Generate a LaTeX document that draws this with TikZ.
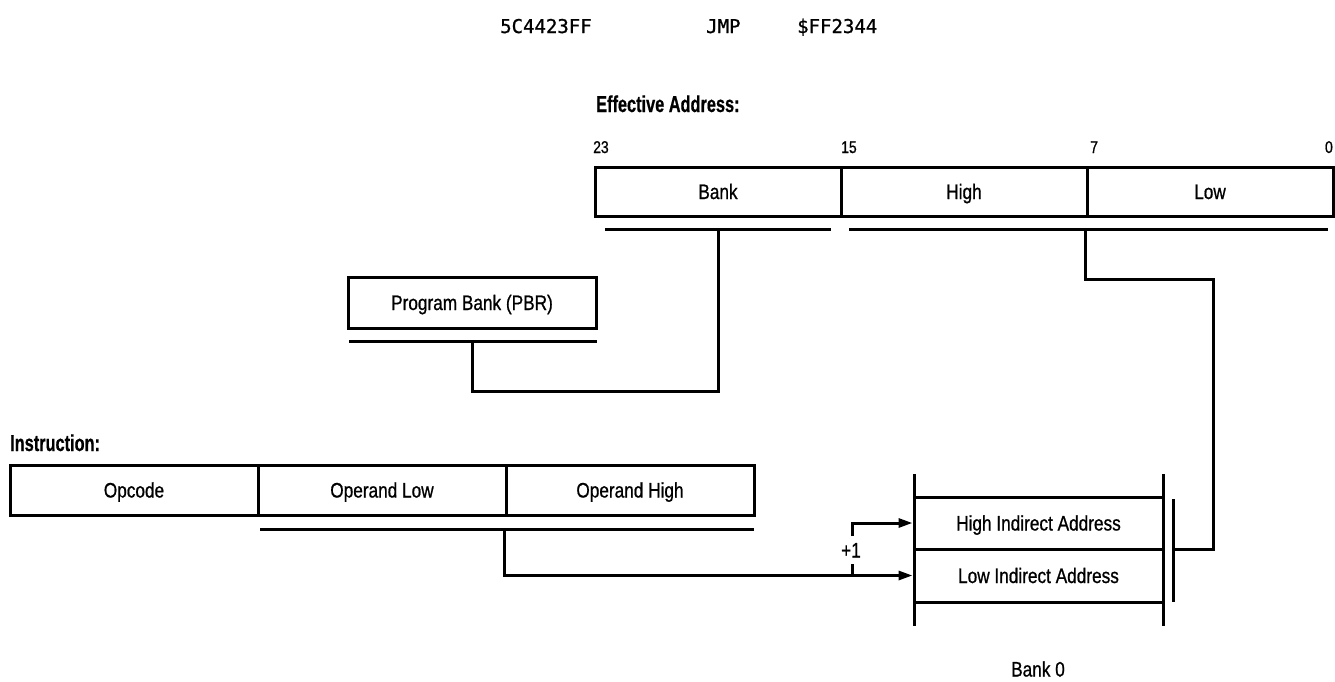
\documentclass[tikz,border=0pt]{standalone}
\usepackage{fontspec}
\setmainfont{Liberation Sans}[FakeStretch=0.82,FakeBold=0.8]
\newfontfamily\labfont{Liberation Sans}[FakeStretch=0.71,FakeBold=0.6]
\newfontfamily\codefont{DejaVu Sans Mono}[FakeBold=1]
\usetikzlibrary{arrows.meta,calc}
\tikzset{
  wire/.style={line width=3pt},
  arr/.style={wire,-{Triangle[length=14pt,width=9pt]}},
  cell/.style={draw,line width=3pt,inner sep=0pt,text height=15pt,text depth=0pt,font=\fontsize{21}{25}\selectfont},
  head/.style={inner sep=0pt,anchor=base west,font=\labfont\bfseries\fontsize{23}{26}\selectfont},
  bitno/.style={inner sep=0pt,anchor=base west,font=\fontsize{17}{19}\selectfont},
  code/.style={inner sep=0pt,anchor=base west,font=\codefont\fontsize{19}{22}\selectfont},
  plain/.style={inner sep=0pt,anchor=base,font=\fontsize{21}{25}\selectfont}
}
\begin{document}
\begin{tikzpicture}[x=1pt,y=-1pt]
\useasboundingbox (0,0) rectangle (1335,681);
% top code line
\node[code] (hex) at (500,33) {5C4423FF};
\node[code] (mn) at (706,33) {JMP};
\node[code] (opd) at (797,33) {\$FF2344};
% effective address
\node[head] (eal) at (596,112) {Effective Address:};
\node[bitno] (b23) at (593,153) {23};
\node[bitno] (b15) at (841,153) {15};
\node[bitno] (b7) at (1090,153) {7};
\node[bitno,anchor=base east] (b0) at (1333,153) {0};
\node[cell,minimum width=246pt,minimum height=49pt] (bank) at (718,191.5) {Bank};
\node[cell,minimum width=246pt,minimum height=49pt] (high) at (964,191.5) {High};
\node[cell,minimum width=246pt,minimum height=49pt] (low) at (1210,191.5) {Low};
\coordinate (ulA1) at (605,229); \coordinate (ulA2) at (831,229);
\coordinate (ulB1) at (849,229); \coordinate (ulB2) at (1328,229);
\draw[wire] (ulA1) -- (ulA2);
\draw[wire] (ulB1) -- (ulB2);
% program bank
\node[cell,minimum width=248pt,minimum height=51pt] (pbr) at (472,302.5) {Program Bank (PBR)};
\coordinate (ulP1) at (349,341); \coordinate (ulP2) at (597,341);
\draw[wire] (ulP1) -- (ulP2);
\coordinate (bankU) at (bank.south |- ulA1);
\coordinate (pbrU) at (pbr.south |- ulP1);
\draw[wire] (bankU) |- ($(pbrU)+(0,50)$) -- (pbrU);
% instruction
\node[head] (insl) at (10,451) {Instruction:};
\node[cell,minimum width=248pt,minimum height=50pt] (opc) at (134,490) {Opcode};
\node[cell,minimum width=248pt,minimum height=50pt] (olo) at (382,490) {Operand Low};
\node[cell,minimum width=248pt,minimum height=50pt] (ohi) at (630,490) {Operand High};
\coordinate (ulI1) at (260,529); \coordinate (ulI2) at (754,529);
\draw[wire] (ulI1) -- (ulI2);
% bank 0 memory
\node[cell,minimum width=249pt,minimum height=52pt] (hia) at (1038.5,523) {High Indirect Address};
\node[cell,minimum width=249pt,minimum height=53pt] (lia) at (1038.5,575.5) {Low Indirect Address};
\draw[wire] (914,474) -- (914,626);
\draw[wire] (1163,474) -- (1163,626);
\node[plain] (bk0) at (1038,676.5) {Bank 0};
\coordinate (barT) at (1173,499); \coordinate (barB) at (1173,602);
\coordinate (barM) at (1173,549);
\draw[wire] (barT) -- (barB);
% low byte connector
\coordinate (lowU) at (low.south west |- ulB1);
\draw[wire] (lowU) -- ++(0,50) -| ($(barM)+(40,0)$) -- (barM);
% operand connector
\coordinate (opU) at (504,529);
\draw[arr] (opU) |- (lia.west);
\node[plain] (plus) at (851,557.5) {+1};
\draw[wire] (852,575.5) -- (852,564);
\draw[arr] (852,536) |- (hia.west);
\end{tikzpicture}
\end{document}
